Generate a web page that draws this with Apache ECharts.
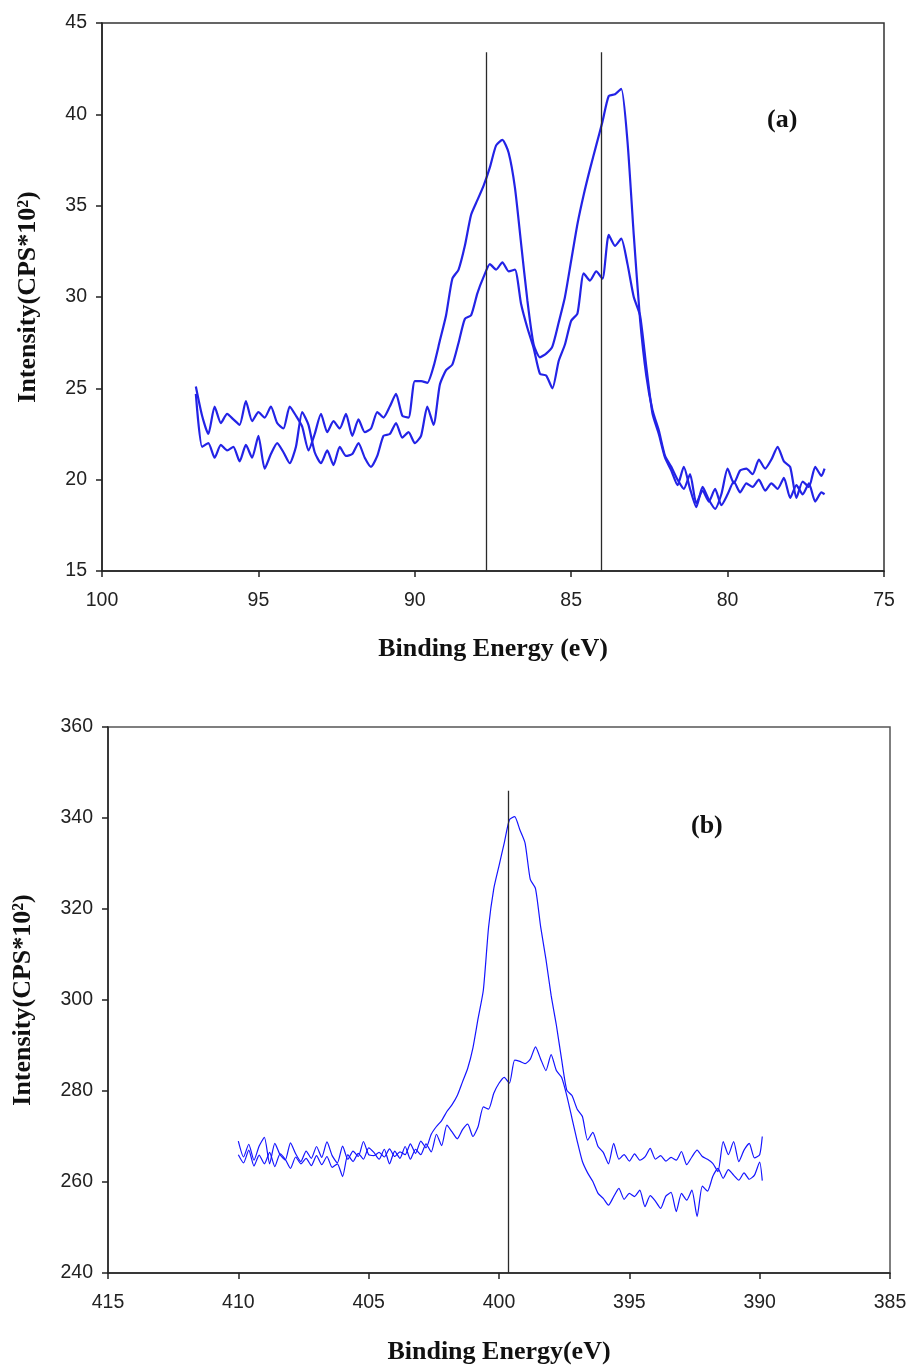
<!DOCTYPE html>
<html>
<head>
<meta charset="UTF-8">
<title>XPS spectra (a) (b)</title>
<script src="https://cdn.jsdelivr.net/npm/echarts@6.0.0/dist/echarts.min.js"></script>
<style>
    html, body { margin: 0; padding: 0; background: #fff; }
    #main { width: 910px; height: 1366px; }
</style>
</head>
<body>
<div id="main"></div>
<script>
    /* ---- panel (a): binding energy grid and two spectra ---- */
    var energyA = [97.0, 96.8, 96.6, 96.4, 96.2, 96.0, 95.8, 95.6, 95.4, 95.2,
        95.0, 94.8, 94.6, 94.4, 94.2, 94.0, 93.8, 93.6, 93.4, 93.2,
        93.0, 92.8, 92.6, 92.4, 92.2, 92.0, 91.8, 91.6, 91.4, 91.2,
        91.0, 90.8, 90.6, 90.4, 90.2, 90.0, 89.8, 89.6, 89.4, 89.2,
        89.0, 88.8, 88.6, 88.4, 88.2, 88.0, 87.8, 87.6, 87.4, 87.2,
        87.0, 86.8, 86.6, 86.4, 86.2, 86.0, 85.8, 85.6, 85.4, 85.2,
        85.0, 84.8, 84.6, 84.4, 84.2, 84.0, 83.8, 83.6, 83.4, 83.2,
        83.0, 82.8, 82.6, 82.4, 82.2, 82.0, 81.8, 81.6, 81.4, 81.2,
        81.0, 80.8, 80.6, 80.4, 80.2, 80.0, 79.8, 79.6, 79.4, 79.2,
        79.0, 78.8, 78.6, 78.4, 78.2, 78.0, 77.8, 77.6, 77.4, 77.2, 77.0, 76.9];
    var upperA = [25.1, 23.5, 22.5, 24.0, 23.1, 23.6, 23.3, 23.0, 24.3, 23.2,
        23.7, 23.4, 24.0, 23.1, 22.8, 24.0, 23.5, 22.9, 21.6, 22.5,
        23.6, 22.6, 23.2, 22.8, 23.6, 22.4, 23.3, 22.6, 22.8, 23.7,
        23.4, 24.0, 24.7, 23.5, 23.4, 25.4, 25.4, 25.3, 26.2, 27.6,
        29.0, 31.0, 31.5, 32.8, 34.5, 35.3, 36.1, 37.1, 38.3, 38.6,
        37.9, 36.0, 32.9, 29.8, 27.4, 26.7, 26.9, 27.3, 28.6, 30.0,
        32.0, 34.0, 35.6, 37.0, 38.3, 39.6, 41.0, 41.1, 41.4, 38.5,
        33.4, 28.8, 25.7, 23.8, 22.7, 21.3, 20.7, 20.0, 19.5, 20.3,
        18.7, 19.4, 18.8, 19.5, 18.6, 19.2, 19.9, 19.3, 19.8, 19.6,
        20.0, 19.4, 19.8, 19.5, 20.1, 19.0, 19.7, 19.2, 19.8, 18.8, 19.3, 19.2];
    var lowerA = [24.7, 21.8, 22.0, 21.2, 21.9, 21.6, 21.8, 21.0, 21.9, 21.2,
        22.4, 20.6, 21.4, 22.0, 21.5, 20.9, 21.8, 23.7, 23.0, 21.5,
        20.9, 21.6, 20.8, 21.8, 21.3, 21.4, 22.0, 21.2, 20.7, 21.3,
        22.4, 22.5, 23.1, 22.3, 22.6, 22.0, 22.4, 24.0, 23.0, 25.2,
        26.0, 26.3, 27.5, 28.8, 29.0, 30.2, 31.1, 31.8, 31.5, 31.9,
        31.4, 31.5, 29.6, 28.3, 27.2, 25.8, 25.7, 25.0, 26.5, 27.4,
        28.7, 29.1, 31.3, 30.9, 31.4, 31.0, 33.4, 32.8, 33.2, 31.8,
        30.0, 29.0, 26.2, 23.6, 22.5, 21.2, 20.5, 19.7, 20.7, 19.5,
        18.5, 19.6, 18.9, 18.4, 19.2, 20.6, 19.8, 20.5, 20.6, 20.3,
        21.1, 20.6, 21.1, 21.8, 21.0, 20.7, 19.0, 19.9, 19.6, 20.7, 20.2, 20.6];
    var peakLinesA = [87.72, 84.03];
    var peakLineTopA = 43.4;

    /* ---- panel (b) ---- */
    var energyB = [410.0, 409.8, 409.6, 409.4, 409.2, 409.0, 408.8, 408.6, 408.4, 408.2,
        408.0, 407.8, 407.6, 407.4, 407.2, 407.0, 406.8, 406.6, 406.4, 406.2,
        406.0, 405.8, 405.6, 405.4, 405.2, 405.0, 404.8, 404.6, 404.4, 404.2,
        404.0, 403.8, 403.6, 403.4, 403.2, 403.0, 402.8, 402.6, 402.4, 402.2,
        402.0, 401.8, 401.6, 401.4, 401.2, 401.0, 400.8, 400.6, 400.4, 400.2,
        400.0, 399.8, 399.6, 399.4, 399.2, 399.0, 398.8, 398.6, 398.4, 398.2,
        398.0, 397.8, 397.6, 397.4, 397.2, 397.0, 396.8, 396.6, 396.4, 396.2,
        396.0, 395.8, 395.6, 395.4, 395.2, 395.0, 394.8, 394.6, 394.4, 394.2,
        394.0, 393.8, 393.6, 393.4, 393.2, 393.0, 392.8, 392.6, 392.4, 392.2,
        392.0, 391.8, 391.6, 391.4, 391.2, 391.0, 390.8, 390.6, 390.4, 390.2,
        390.0, 389.9];
    var upperB = [269.0, 265.5, 268.3, 264.8, 267.9, 269.8, 264.0, 268.5, 266.0, 264.8,
        268.6, 266.2, 264.5, 266.8, 265.2, 267.8, 265.4, 268.8, 265.8, 264.2,
        267.9, 265.0, 266.8, 265.6, 268.9, 266.0, 265.8, 266.5, 265.5, 267.3,
        265.6, 266.6, 266.0, 268.4, 266.3, 269.0, 267.5, 270.5, 272.2, 273.5,
        275.5, 277.0, 279.0, 282.0, 285.0, 289.5, 296.0, 302.2, 316.0, 324.5,
        329.5, 334.5, 339.6, 340.3, 337.4, 334.5, 326.5, 324.5, 316.0, 309.0,
        301.0, 294.5, 287.0, 280.2, 279.0, 276.0, 274.4, 269.2, 270.9, 267.8,
        266.5, 264.0, 268.5, 265.0, 266.0, 264.6, 266.2, 264.8, 265.5, 267.4,
        265.0, 265.8, 264.6, 265.4, 264.8, 266.7, 263.8, 265.5, 267.0, 265.6,
        265.0, 264.1, 262.3, 268.9, 266.0, 268.9, 264.5, 267.0, 268.5, 265.3,
        266.0, 270.0];
    var lowerB = [266.0, 264.2, 267.0, 263.5, 265.9, 264.0, 266.5, 263.4, 266.2, 265.0,
        263.0, 265.5, 264.0, 265.2, 263.6, 265.8, 263.8, 265.6, 263.2, 264.0,
        261.2, 266.0, 264.5, 266.3, 265.0, 267.5, 266.5, 265.0, 267.2, 264.0,
        266.8, 265.2, 267.8, 265.0, 267.2, 266.0, 268.4, 266.6, 270.5, 268.0,
        272.5, 271.0, 269.5, 271.5, 272.7, 270.0, 272.2, 276.5, 276.0, 279.5,
        281.7, 283.0, 281.7, 286.8, 286.5, 286.0, 287.0, 289.7, 287.0, 284.5,
        288.0, 284.5, 283.0, 279.0, 274.0, 269.0, 264.5, 262.0, 260.1, 257.5,
        256.4, 254.9, 256.8, 258.6, 256.2, 257.5, 256.8, 258.2, 254.6, 257.0,
        255.8, 254.2, 256.9, 257.7, 253.5, 257.5, 256.0, 258.2, 252.4, 259.1,
        258.0, 261.2, 263.0, 260.8, 262.7, 261.5, 260.4, 262.0, 260.6, 261.5,
        264.4, 260.3];
    var peakLinesB = [399.63];
    var peakLineTopB = 346;

    var serifFont = "'Times New Roman', 'Liberation Serif', serif";
    var sansFont = "Arial, 'Liberation Sans', sans-serif";

    function zip(xs, ys) {
        return xs.map(function (x, i) { return [x, ys[i]]; });
    }
    function vLines(xs, bottom, top) {
        return xs.map(function (x) { return [{coord: [x, bottom]}, {coord: [x, top]}]; });
    }

    function xAxisOf(grid, min, max, title, gap) {
        return {
            gridIndex: grid, type: 'value', min: min, max: max, interval: 5, inverse: true,
            name: title, nameLocation: 'middle', nameGap: gap,
            nameTextStyle: {fontFamily: serifFont, fontWeight: 'bold', fontSize: 26, color: '#111'},
            axisLine: {lineStyle: {color: '#222', width: 1.5}},
            axisTick: {length: 6, lineStyle: {color: '#222', width: 1.5}},
            axisLabel: {fontFamily: sansFont, fontSize: 19.5, color: '#222', margin: 20},
            splitLine: {show: false}
        };
    }
    function yAxisOf(grid, min, max, step, gap) {
        return {
            gridIndex: grid, type: 'value', min: min, max: max, interval: step,
            name: 'Intensity(CPS*10²)', nameLocation: 'middle', nameGap: gap,
            nameTextStyle: {fontFamily: serifFont, fontWeight: 'bold', fontSize: 26, color: '#111'},
            axisLine: {lineStyle: {color: '#222', width: 1.5}},
            axisTick: {length: 6, lineStyle: {color: '#222', width: 1.5}},
            axisLabel: {fontFamily: sansFont, fontSize: 19.5, color: '#222', margin: 15},
            splitLine: {show: false}
        };
    }
    function spectrum(xi, xs, ys, width, color, lines, bottom, top) {
        var s = {
            type: 'line', xAxisIndex: xi, yAxisIndex: xi,
            data: zip(xs, ys), showSymbol: false, smooth: 0.2,
            lineStyle: {color: color, width: width}
        };
        if (lines) {
            s.markLine = {
                silent: true, symbol: ['none', 'none'], label: {show: false},
                lineStyle: {color: '#2a2a2a', width: 1.3, type: 'solid'},
                data: vLines(lines, bottom, top)
            };
        }
        return s;
    }

    var app = echarts.init(document.getElementById('main'));
    var option = {
        animation: false,
        backgroundColor: '#fff',
        grid: [
            {left: 102, top: 23, width: 782, height: 548, show: true, borderColor: '#333', borderWidth: 1.5},
            {left: 108, top: 727, width: 782, height: 546, show: true, borderColor: '#555', borderWidth: 1.5}
        ],
        xAxis: [
            xAxisOf(0, 75, 100, 'Binding Energy (eV)', 65),
            xAxisOf(1, 385, 415, 'Binding Energy(eV)', 66)
        ],
        yAxis: [
            yAxisOf(0, 15, 45, 5, 61),
            yAxisOf(1, 240, 360, 20, 72)
        ],
        graphic: [
            {type: 'text', left: 767, top: 107, style: {text: '(a)', font: 'bold 26px ' + serifFont, fill: '#111'}},
            {type: 'text', left: 691, top: 813, style: {text: '(b)', font: 'bold 26px ' + serifFont, fill: '#111'}}
        ],
        series: [
            spectrum(0, energyA, upperA, 2.2, '#2323e6', peakLinesA, 15, peakLineTopA),
            spectrum(0, energyA, lowerA, 2.2, '#2323e6'),
            spectrum(1, energyB, upperB, 1.2, '#1414ff', peakLinesB, 240, peakLineTopB),
            spectrum(1, energyB, lowerB, 1.2, '#1414ff')
        ]
    };
    app.setOption(option);
</script>
</body>
</html>
